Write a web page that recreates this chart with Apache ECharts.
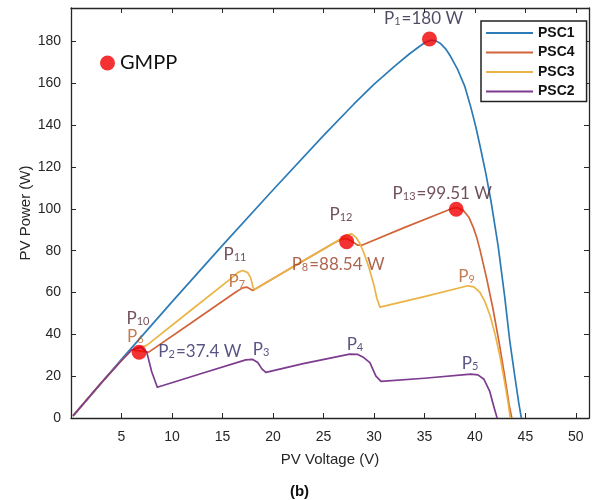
<!DOCTYPE html>
<html>
<head>
    <meta charset="UTF-8">
    <title>PV curves under partial shading</title>
    <script src="https://cdn.jsdelivr.net/npm/echarts@6/dist/echarts.min.js"></script>
    <style>
        html, body { margin: 0; padding: 0; background: #fff; }
        #chart { width: 599px; height: 500px; }
    </style>
</head>
<body>
    <div id="chart"></div>
    <script>
        // axis ticks
        var xTicks = [5, 10, 15, 20, 25, 30, 35, 40, 45, 50];
        var yTicks = [0, 20, 40, 60, 80, 100, 120, 140, 160, 180];

        // [voltage V, power W]
        var psc1 = [[0.2, 1], [3, 16.8], [5, 28], [10, 55.5], [15, 82.5], [20, 109], [25, 135], [28, 150], [30, 159.5],
            [32, 168], [33.5, 174], [34.5, 177.6], [35.1, 179.6], [35.6, 180.6], [36.1, 180.4], [36.6, 179],
            [37.1, 176.5], [37.6, 172.8], [38.3, 166.5], [39, 158.5], [39.6, 148.5], [40.1, 139], [40.6, 128],
            [41.1, 116.5], [41.6, 103.5], [42.3, 82.3], [42.95, 58], [43.45, 37], [43.95, 20], [44.35, 7], [44.6, 0]];
        var psc4 = [[0.2, 1], [3, 16.8], [5, 27.5], [6, 32.5], [6.9, 32], [7.7, 31.5], [12, 45.8], [16.4, 60.5], [17.0, 62.2],
            [17.4, 62.6], [17.7, 61.8], [18.0, 61], [22, 72.3], [26, 83.5], [26.8, 85.5], [27.3, 85.8], [27.8, 84.5],
            [28.4, 82.6], [28.8, 82.6], [33, 91], [37, 98.7], [37.8, 100.3], [38.3, 100.5], [38.9, 99], [39.4, 96],
            [39.85, 91], [40.2, 86], [40.5, 80.5], [41.15, 67], [41.8, 52], [42.4, 36], [42.95, 20], [43.4, 6], [43.65, 0]];
        var psc3 = [[0.2, 1], [3, 16.8], [5, 27.5], [6, 32.5], [6.9, 33.8], [7.5, 34.7], [12, 52], [15.8, 66.5], [16.5, 69.5],
            [17.0, 70.5], [17.5, 69.5], [17.8, 67], [18.0, 63], [18.15, 61.3], [22, 72.3], [26, 83.5], [26.8, 86],
            [27.3, 87.5], [27.8, 88], [28.2, 86.5], [28.6, 83.5], [29.0, 79], [29.5, 72], [30.0, 63.5], [30.3, 57],
            [30.6, 53], [35, 58], [39.3, 63.2], [39.9, 62.7], [40.5, 60], [41.0, 55.5], [41.5, 49], [42.0, 40],
            [42.5, 29], [42.95, 17], [43.3, 7], [43.5, 0]];
        var psc2 = [[0.2, 1], [3, 16.8], [5, 27.5], [6, 32.5], [6.9, 34], [7.5, 31.5], [8.0, 22], [8.55, 14.7], [13, 21.4],
            [17.3, 27.8], [18.0, 28], [18.5, 26.5], [18.9, 23.5], [19.3, 21.8], [23, 26], [27.6, 30.5], [28.4, 30.4],
            [28.9, 29.2], [29.6, 26.5], [30.2, 20], [30.7, 17.5], [35, 19], [39.6, 21], [40.3, 20.6], [40.9, 18.5],
            [41.45, 13], [41.9, 5], [42.2, 0]];

        // maximum power points (red dots)
        var gmpp = [[35.5, 181.2], [38.15, 99.8], [27.3, 84.3], [6.75, 31.4]];

        // point annotations: subscript, tail text, group
        var labelText = [['1', '=180 W', 'dark'], ['13', '=99.51 W', 'maroon'], ['12', '', 'maroon'],
            ['8', '=88.54 W', 'brown'], ['9', '', 'orange'], ['4', '', 'indigo'], ['5', '', 'indigo'],
            ['11', '', 'maroon'], ['7', '', 'orange'], ['2', '=37.4 W', 'indigo'], ['3', '', 'indigo'],
            ['10', '', 'maroon'], ['6', '', 'orange']];
        var labelAt = [[31.0, 191.5], [31.85, 108.2], [25.6, 97.8], [21.85, 74.0], [38.35, 68.4], [27.3, 35.7],
            [38.7, 26.9], [15.1, 78.7], [15.6, 66.0], [8.65, 32.5], [18.0, 33.3], [5.5, 48.1], [5.55, 39.7]];

        var tones = { dark: '#221f3d', maroon: '#4d2436', brown: '#9a3f24', orange: '#b55d27', indigo: '#2e2b66' };

        var labelData = [];
        for (var i = 0; i < labelText.length; i++) {
            labelData.push({
                value: labelAt[i],
                label: {
                    color: tones[labelText[i][2]],
                    formatter: '{p|P}{s|' + labelText[i][0] + '}' + (labelText[i][1] ? '{t|' + labelText[i][1] + '}' : '')
                }
            });
        }

        var axisColor = '#262626';
        var tickFont = { fontFamily: 'Liberation Sans', fontSize: 14, color: axisColor };

        function lineSeries(name, data, color) {
            return {
                name: name,
                type: 'line',
                data: data,
                symbol: 'none',
                smooth: false,
                lineStyle: { width: 1.7, color: color, join: 'round' },
                itemStyle: { color: color },
                z: 2
            };
        }

        var option = {
            animation: false,
            backgroundColor: '#fff',
            title: {
                text: '(b)',
                left: 'center',
                top: 479,
                textStyle: { fontFamily: 'Liberation Sans', fontSize: 15, fontWeight: 'bold', color: '#111' }
            },
            grid: { left: 71, right: 10, top: 8, bottom: 82 },
            legend: [{
                data: ['PSC1', 'PSC4', 'PSC3', 'PSC2'],
                orient: 'vertical',
                left: 481,
                top: 21,
                itemWidth: 47,
                itemHeight: 14,
                itemGap: 5.5,
                padding: [5, 12, 3, 4],
                borderColor: '#222',
                borderWidth: 1.5,
                backgroundColor: '#fff',
                selectedMode: false,
                itemStyle: { opacity: 0 },
                lineStyle: { width: 2 },
                textStyle: { fontFamily: 'Liberation Sans', fontWeight: 'bold', fontSize: 14, color: '#111' }
            }, {
                data: ['GMPP'],
                left: 100,
                top: 53,
                icon: 'circle',
                itemWidth: 15,
                itemHeight: 15,
                padding: 0,
                selectedMode: false,
                textStyle: { fontFamily: 'Lato', fontSize: 20, color: '#111' }
            }],
            xAxis: [{
                type: 'value',
                min: 0,
                max: 51.3,
                position: 'bottom',
                name: 'PV Voltage (V)',
                nameLocation: 'middle',
                nameGap: 34,
                nameMoveOverlap: false,
                nameTextStyle: { fontFamily: 'Liberation Sans', fontSize: 15, color: axisColor },
                axisLine: { show: true, onZero: false, lineStyle: { color: axisColor, width: 1.3 } },
                axisTick: { inside: true, length: 5, customValues: xTicks, lineStyle: { color: axisColor } },
                axisLabel: Object.assign({ customValues: xTicks, margin: 12 }, tickFont),
                splitLine: { show: false }
            }, {
                type: 'value',
                min: 0,
                max: 51.3,
                position: 'top',
                axisLine: { show: true, onZero: false, lineStyle: { color: axisColor, width: 1.3 } },
                axisTick: { inside: true, length: 5, customValues: xTicks, lineStyle: { color: axisColor } },
                axisLabel: { show: false },
                splitLine: { show: false }
            }],
            yAxis: [{
                type: 'value',
                min: 0,
                max: 196,
                position: 'left',
                name: 'PV Power (W)',
                nameLocation: 'middle',
                nameGap: 38,
                nameMoveOverlap: false,
                nameTextStyle: { fontFamily: 'Liberation Sans', fontSize: 15, color: axisColor },
                axisLine: { show: true, onZero: false, lineStyle: { color: axisColor, width: 1.3 } },
                axisTick: { inside: true, length: 5, customValues: yTicks, lineStyle: { color: axisColor } },
                axisLabel: Object.assign({ customValues: yTicks, margin: 10 }, tickFont),
                splitLine: { show: false }
            }, {
                type: 'value',
                min: 0,
                max: 196,
                position: 'right',
                axisLine: { show: true, onZero: false, lineStyle: { color: axisColor, width: 1.3 } },
                axisTick: { inside: true, length: 5, customValues: yTicks, lineStyle: { color: axisColor } },
                axisLabel: { show: false },
                splitLine: { show: false }
            }],
            series: [
                lineSeries('PSC1', psc1, '#2c7bb6'),
                lineSeries('PSC4', psc4, '#d2643a'),
                lineSeries('PSC3', psc3, '#eab447'),
                lineSeries('PSC2', psc2, '#7d3c8f'),
                {
                    name: 'GMPP',
                    type: 'scatter',
                    data: gmpp,
                    symbol: 'circle',
                    symbolSize: 15,
                    itemStyle: { color: '#f00000' },
                    z: 5
                },
                {
                    name: 'labels',
                    type: 'scatter',
                    data: labelData,
                    symbolSize: 0,
                    itemStyle: { color: 'rgba(0,0,0,0)' },
                    silent: true,
                    z: 6,
                    label: {
                        show: true,
                        position: 'inside',
                        align: 'left',
                        verticalAlign: 'middle',
                        fontFamily: 'Lato',
                        rich: {
                            p: { fontFamily: 'Lato', fontSize: 17, lineHeight: 20, verticalAlign: 'bottom' },
                            s: { fontFamily: 'Lato', fontSize: 11, lineHeight: 14, verticalAlign: 'bottom', padding: [0, 1, 0, 0] },
                            t: { fontFamily: 'Lato', fontSize: 17, lineHeight: 20, verticalAlign: 'bottom' }
                        }
                    }
                }
            ]
        };

        var myChart = echarts.init(document.getElementById('chart'));
        myChart.setOption(option);
    </script>
</body>
</html>
